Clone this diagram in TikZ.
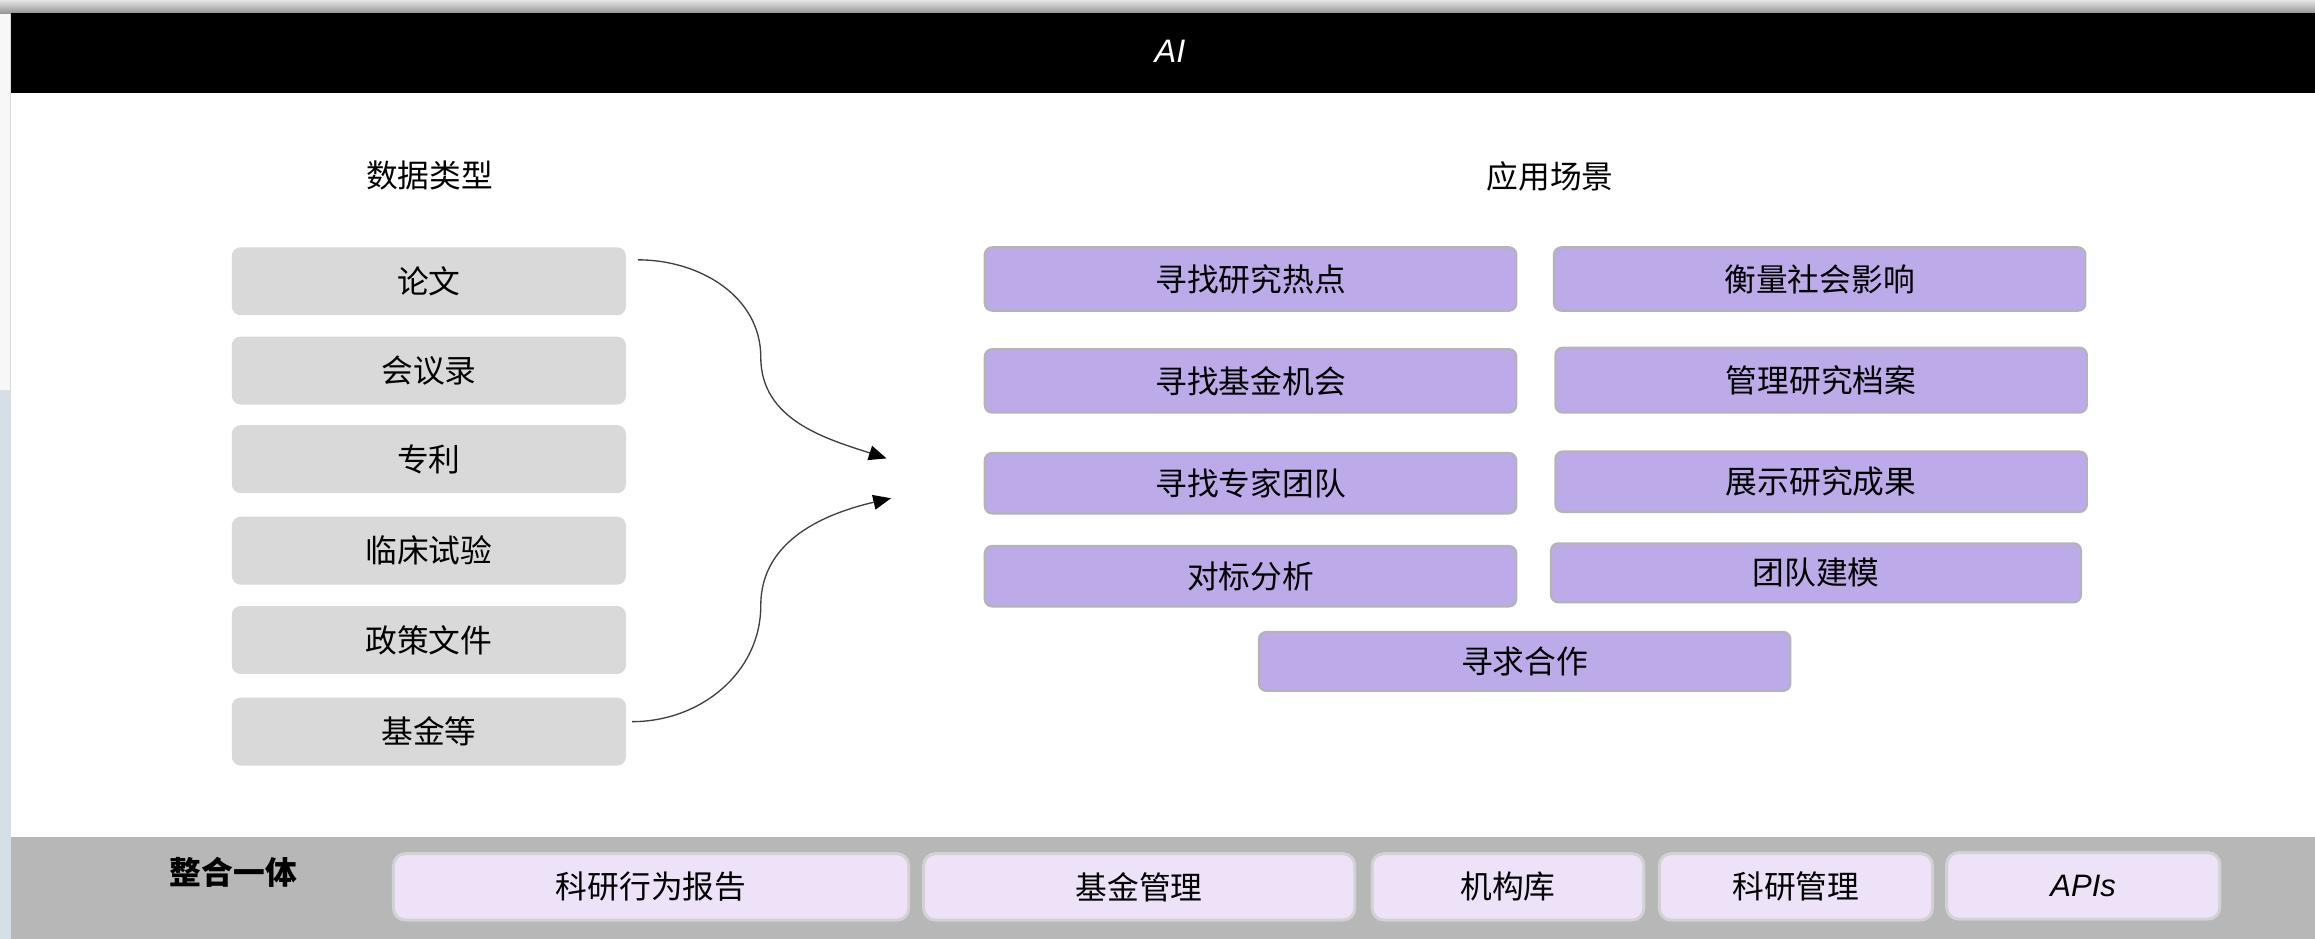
\documentclass[tikz,border=0pt]{standalone}
\usepackage{fontspec}
\setmainfont{Noto Sans CJK SC}
\newfontfamily\handfont{Liberation Sans}
\usetikzlibrary{arrows.meta}
\definecolor{datgray}{HTML}{D9D9D9}
\definecolor{apppurple}{RGB}{189,170,232}
\definecolor{appedge}{HTML}{B4B4B4}
\definecolor{intlilac}{RGB}{238,226,248}
\definecolor{intedge}{HTML}{D2D2D2}
\definecolor{bandgray}{HTML}{B7B7B7}
\definecolor{leftblue}{RGB}{214,222,230}
\newcommand{\lblfont}{\fontsize{21.5}{25}\selectfont}
\begin{document}
\begin{tikzpicture}[x=1pt,y=1pt,
  datbox/.style={rounded corners=6pt, fill=datgray, minimum width=267pt, minimum height=46pt, inner sep=0pt, font=\lblfont},
  appbox/.style={rounded corners=5pt, draw=appedge, line width=1.4pt, fill=apppurple, minimum width=360pt, inner sep=0pt, font=\lblfont},
  intbox/.style={rounded corners=8pt, draw=intedge, line width=2pt, fill=intlilac, minimum height=45pt, inner sep=0pt, font=\lblfont},
  flow/.style={draw=black!75, line width=0.9pt, -{Triangle[length=12pt,width=10pt,color=black]}}]
\useasboundingbox (0,0) rectangle (1568,636);
\fill[white] (0,0) rectangle (1568,636);
\fill[leftblue] (0,0) rectangle (7.5,372);
\fill[black!3] (0,372) rectangle (7.5,627);
\draw[black!15, line width=0.8pt] (7,372) -- (7,627);
\shade[top color=black!10, bottom color=black!42] (0,627) rectangle (1568,636);
\fill[black] (7.5,573) rectangle (1568,627);
\fill[bandgray] (7.5,0) rectangle (1568,69.3);
\node[text=white, font=\handfont\itshape\fontsize{22}{26}\selectfont] (top) at (792.5,601) {AI};
\node[font=\lblfont] (ttl0) at (291,517) {数据类型};
\node[font=\lblfont] (ttl1) at (1050,516.5) {应用场景};
\node[datbox] (dat0) at (290.5,445.5) {论文};
\node[datbox] (dat1) at (290.5,385) {会议录};
\node[datbox] (dat2) at (290.5,325) {专利};
\node[datbox] (dat3) at (290.5,263) {临床试验};
\node[datbox] (dat4) at (290.5,202.5) {政策文件};
\node[datbox] (dat5) at (290.5,140.5) {基金等};
\coordinate (bend0) at (515.3,394);
\coordinate (tip0) at (600.5,325.5);
\coordinate (bend1) at (515.3,226);
\coordinate (tip1) at (603.5,298.5);
\draw[flow] ([xshift=8pt,yshift=14.5pt]dat0.east) to[out=0,in=90] (bend0) to[out=-90,in=162] (tip0);
\draw[flow] ([xshift=4pt,yshift=6.7pt]dat5.east) to[out=0,in=-90] (bend1) to[out=90,in=-167] (tip1);
\node[appbox, minimum height=43pt] (app0) at (847,447) {寻找研究热点};
\node[appbox, minimum height=43pt] (app1) at (1232.5,447) {衡量社会影响};
\node[appbox, minimum height=43pt] (app2) at (847,378) {寻找基金机会};
\node[appbox, minimum height=44pt] (app3) at (1233.5,378.5) {管理研究档案};
\node[appbox, minimum height=41pt] (app4) at (847,308.7) {寻找专家团队};
\node[appbox, minimum height=41pt] (app5) at (1233.5,309.7) {展示研究成果};
\node[appbox, minimum height=41pt] (app6) at (847,245.7) {对标分析};
\node[appbox, minimum height=40pt, minimum width=359pt] (app7) at (1230,248) {团队建模};
\node[appbox, minimum height=40pt] (app8) at (1032.7,188) {寻求合作};
\node[font=\lblfont\bfseries] (intl) at (158,45) {整合一体};
\node[intbox, minimum width=349pt] (int0) at (441,35.3) {科研行为报告};
\node[intbox, minimum width=292pt] (int1) at (771.6,35.3) {基金管理};
\node[intbox, minimum width=184pt] (int2) at (1021.4,35.3) {机构库};
\node[intbox, minimum width=185pt] (int3) at (1216.4,35.3) {科研管理};
\node[intbox, minimum width=185pt, font=\handfont\itshape\fontsize{21}{25}\selectfont] (int4) at (1411,36) {APIs};
\end{tikzpicture}
\end{document}
